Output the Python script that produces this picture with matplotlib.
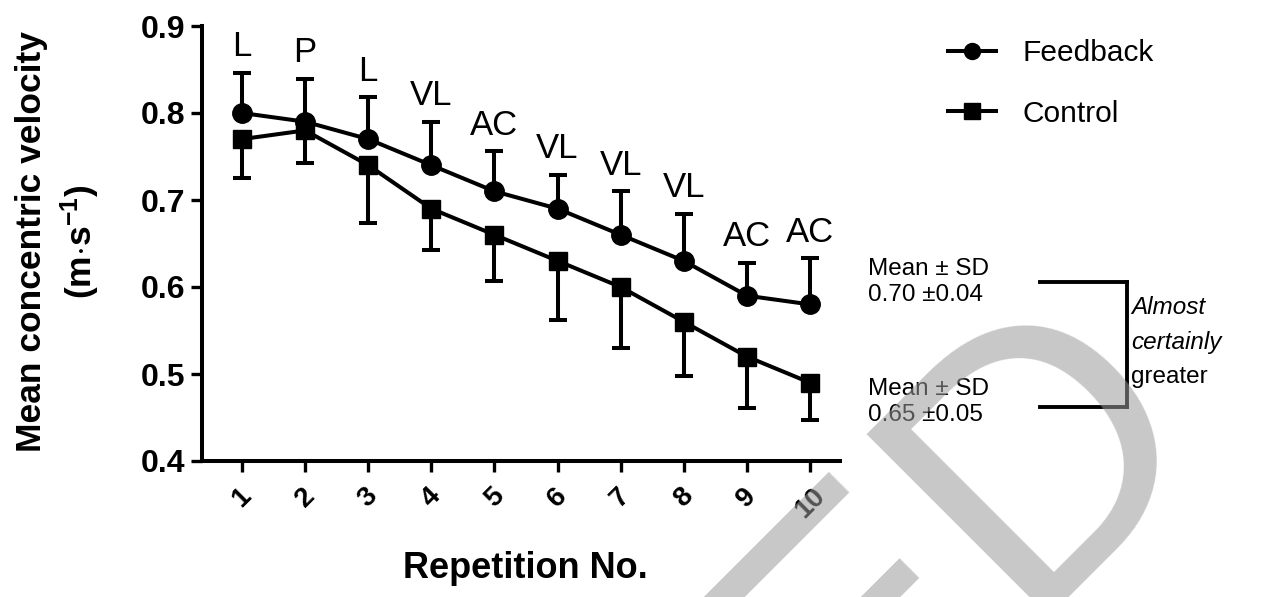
import matplotlib
matplotlib.use("Agg")
import matplotlib.pyplot as plt
from matplotlib.lines import Line2D
import numpy as np

plt.rcParams['font.family'] = ['Liberation Sans', 'DejaVu Sans']
plt.rcParams['mathtext.fontset'] = 'custom'
plt.rcParams['mathtext.rm'] = 'Liberation Sans'
plt.rcParams['mathtext.bf'] = 'Liberation Sans:bold'
plt.rcParams['mathtext.it'] = 'Liberation Sans:italic'

# ---- data ----
repetitions = [1, 2, 3, 4, 5, 6, 7, 8, 9, 10]
tick_labels = ['1', '2', '3', '4', '5', '6', '7', '8', '9', '10']
feedback_mean = [0.80, 0.79, 0.77, 0.74, 0.71, 0.69, 0.66, 0.63, 0.59, 0.58]
feedback_sd = [0.046, 0.049, 0.048, 0.050, 0.046, 0.039, 0.050, 0.054, 0.038, 0.053]
control_mean = [0.77, 0.78, 0.74, 0.69, 0.66, 0.63, 0.60, 0.56, 0.52, 0.49]
control_sd = [0.045, 0.038, 0.067, 0.047, 0.053, 0.068, 0.070, 0.062, 0.059, 0.043]
effect_labels = ['L', 'P', 'L', 'VL', 'AC', 'VL', 'VL', 'VL', 'AC', 'AC']
summary_feedback = 'Mean \u00b1 SD\n0.70 \u00b10.04'
summary_control = 'Mean \u00b1 SD\n0.65 \u00b10.05'

W, H = 1270, 597
fig = plt.figure(figsize=(W / 100, H / 100), dpi=100)
ax = fig.add_axes([202 / W, 1 - 461 / H, (840 - 202) / W, (461 - 26) / H])

x = np.array(repetitions, dtype=float)
fm = np.array(feedback_mean); fs = np.array(feedback_sd)
cm = np.array(control_mean); cs = np.array(control_sd)

lw = 2.9
ax.errorbar(x, fm, yerr=[np.zeros_like(fs), fs], fmt='-o', color='black',
            lw=lw, ms=14, elinewidth=lw, capsize=6.5, capthick=lw, zorder=3)
ax.errorbar(x, cm, yerr=[cs, np.zeros_like(cs)], fmt='-s', color='black',
            lw=lw, ms=13.5, elinewidth=lw, capsize=6.5, capthick=lw, zorder=3)

for xi, top, lab in zip(x, fm + fs, effect_labels):
    ax.annotate(lab, (xi, top), xytext=(0, 7), textcoords='offset points',
                ha='center', va='bottom', fontsize=25)

ax.set_xlim(0.366, 10.475)
ax.set_ylim(0.4, 0.9)
ax.set_yticks([0.4, 0.5, 0.6, 0.7, 0.8, 0.9])
ax.set_yticklabels(['0.4', '0.5', '0.6', '0.7', '0.8', '0.9'], fontsize=23, fontweight='bold')
ax.set_xticks(x)
ax.set_xticklabels(tick_labels, fontsize=20, fontweight='bold', rotation=45,
                   ha='center', va='top')
ax.tick_params(axis='both', direction='out', length=8, width=2.4, pad=4)
ax.tick_params(axis='x', pad=8)
for s in ['top', 'right']:
    ax.spines[s].set_visible(False)
for s in ['left', 'bottom']:
    ax.spines[s].set_linewidth(2.9)

handles = [Line2D([], [], color='black', lw=lw, marker='o', ms=11.5),
           Line2D([], [], color='black', lw=lw, marker='s', ms=11.5)]
ax.legend(handles, ['Feedback', 'Control'], loc='upper left',
          bbox_to_anchor=(948 / W, 1 - 39 / H),
          bbox_transform=fig.transFigure, frameon=False, fontsize=21.5,
          handlelength=1.6, handletextpad=0.9, labelspacing=1.1,
          borderpad=0, borderaxespad=0)

fig.text(32 / W, 1 - 242 / H, 'Mean concentric velocity', rotation=90,
         ha='center', va='center', fontsize=25.5, fontweight='bold')
fig.text(80 / W, 1 - 242 / H, r'(m$\cdot$s$^{\mathbf{-1}}$)', rotation=90,
         ha='center', va='center', fontsize=25.5, fontweight='bold')
fig.text(525 / W, 1 - 568 / H, 'Repetition No.', ha='center', va='center',
         fontsize=26, fontweight='bold')

fig.text(868 / W, 1 - 282 / H, summary_feedback, ha='left', va='center', fontsize=17.5, linespacing=1.25)
fig.text(868 / W, 1 - 402 / H, summary_control, ha='left', va='center', fontsize=17.5, linespacing=1.25)

for (x0, y0, x1, y1) in [(1040, 282, 1127, 282), (1127, 282, 1127, 407), (1040, 407, 1127, 407)]:
    fig.add_artist(Line2D([x0 / W, x1 / W], [1 - y0 / H, 1 - y1 / H], color='black', lw=2.8,
                          transform=fig.transFigure))

fig.text(1131 / W, 1 - 307 / H, 'Almost', ha='left', va='center', fontsize=17.5, style='italic')
fig.text(1131 / W, 1 - 342 / H, 'certainly', ha='left', va='center', fontsize=17.5, style='italic')
fig.text(1131 / W, 1 - 377 / H, 'greater', ha='left', va='center', fontsize=17.5)

# watermark
fig.text(958 / W, 1 - 540 / H, 'ED', rotation=45, ha='center', va='center', fontsize=270,
         color='#9b9b9b', alpha=0.55, zorder=10)

fig.savefig('out.png', dpi=100)
